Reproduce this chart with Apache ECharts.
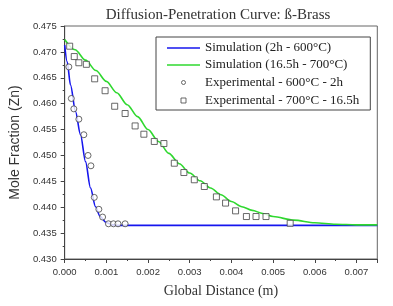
<!DOCTYPE html>
<html>
<head>
<meta charset="utf-8">
<script src="https://cdn.jsdelivr.net/npm/echarts@6/dist/echarts.min.js"></script>
<style>html,body{margin:0;padding:0;background:#fff;}#c{width:393px;height:306px;}</style>
</head>
<body>
<div id="c"></div>
<script>
const blueX = [0, 0.00006, 0.00014, 0.00026, 0.00038, 0.0005, 0.00062, 0.00074, 0.00085, 0.001, 0.00115, 0.0013, 0.0075];
const blueY = [0.4713, 0.4681, 0.4636, 0.4585, 0.4540, 0.4488, 0.4437, 0.4401, 0.4382, 0.4370, 0.4366, 0.4365, 0.4365];
const greenX = [0, 0.00025, 0.0005, 0.00075, 0.001, 0.00125, 0.0015, 0.00175, 0.002, 0.00225, 0.0025, 0.00275, 0.003, 0.00325, 0.0035, 0.00375, 0.004, 0.00425, 0.0045, 0.00475, 0.005, 0.0055, 0.006, 0.0065, 0.007, 0.0075];
const greenY = [0.4724, 0.4704, 0.4684, 0.4664, 0.4643, 0.4621, 0.4598, 0.4575, 0.4550, 0.4527, 0.4504, 0.4484, 0.4466, 0.4451, 0.4437, 0.4424, 0.4411, 0.4401, 0.4394, 0.4388, 0.4382, 0.4375, 0.4370, 0.4367, 0.4366, 0.4366];
const circX = [0.0001, 0.00016, 0.00022, 0.00034, 0.00046, 0.00056, 0.00063, 0.00071, 0.00082, 0.00091, 0.00105, 0.00117, 0.00128, 0.00145];
const circY = [0.4671, 0.4610, 0.4590, 0.4570, 0.4540, 0.4500, 0.4480, 0.4419, 0.4396, 0.4381, 0.4368, 0.4368, 0.4368, 0.4368];
const sqX = [0.00012, 0.00023, 0.00034, 0.00052, 0.00072, 0.00097, 0.0012, 0.00145, 0.00169, 0.0019, 0.00215, 0.00238, 0.00263, 0.00286, 0.00311, 0.00335, 0.00364, 0.00386, 0.0041, 0.00436, 0.00459, 0.00483, 0.00541];
const sqY = [0.4711, 0.4691, 0.4679, 0.4676, 0.4648, 0.4625, 0.4595, 0.4581, 0.4557, 0.4541, 0.4527, 0.4523, 0.4485, 0.4467, 0.4453, 0.4440, 0.4420, 0.4408, 0.4393, 0.4382, 0.4382, 0.4382, 0.4369];
const seriesNames = ['Simulation (2h - 600°C)', 'Simulation (16.5h - 700°C)', 'Experimental - 600°C - 2h', 'Experimental - 700°C - 16.5h'];
const titleText = 'Diffusion-Penetration Curve: ß-Brass';
const xName = 'Global Distance (m)';
const yName = 'Mole Fraction (Zn)';

const zip = (xs, ys) => xs.map((x, i) => [x, ys[i]]);
const chart = echarts.init(document.getElementById('c'));
const serif = 'Liberation Serif';
const sans = 'Liberation Sans';
const blue = '#1616ee';
const green = '#2fd82f';
const lineIcon = 'path://M0,0M33,14M0,6.2L33,6.2L33,7.8L0,7.8Z';
const circIcon = 'path://M0,0M14,14M9,7A2,2,0,1,1,5,7A2,2,0,1,1,9,7Z';
const sqIcon = 'path://M0,0M14,14M4.5,4.5L9.5,4.5L9.5,9.5L4.5,9.5Z';
chart.setOption({
  animation: false,
  backgroundColor: '#fff',
  title: {
    text: titleText, left: 213, top: 3, textAlign: 'center',
    textStyle: {fontFamily: serif, fontSize: 15, fontWeight: 'normal', color: '#333'}
  },
  grid: {left: 62.5, right: 15.7, top: 26, bottom: 47, show: true, borderColor: '#666', borderWidth: 1, backgroundColor: 'transparent'},
  legend: {
    orient: 'vertical', left: 156, top: 37,
    borderColor: '#444', borderWidth: 1, padding: [4, 11, 2, 11],
    itemWidth: 33, itemHeight: 14, itemGap: 3,
    textStyle: {fontFamily: serif, fontSize: 13, color: '#222'},
    data: [
      {name: seriesNames[0], icon: lineIcon, itemStyle: {color: blue, borderWidth: 0}},
      {name: seriesNames[1], icon: lineIcon, itemStyle: {color: green, borderWidth: 0}},
      {name: seriesNames[2], icon: circIcon, itemStyle: {color: '#fff', borderColor: '#444', borderWidth: 1}},
      {name: seriesNames[3], icon: sqIcon, itemStyle: {color: '#fff', borderColor: '#444', borderWidth: 1}}
    ]
  },
  xAxis: {
    type: 'value', min: 0, max: 0.0075, interval: 0.001,
    name: xName, nameLocation: 'middle', nameGap: 25,
    nameTextStyle: {fontFamily: serif, fontSize: 14, color: '#333'},
    axisLine: {lineStyle: {color: '#444'}},
    axisTick: {inside: false, length: 4, lineStyle: {color: '#444'}},
    minorTick: {show: true, splitNumber: 2, length: 2, lineStyle: {color: '#444'}},
    splitLine: {show: false},
    axisLabel: {margin: 8, showMaxLabel: false, fontFamily: sans, fontSize: 9.5, color: '#333',
      formatter: v => v.toFixed(3)}
  },
  yAxis: {
    type: 'value', min: 0.430, max: 0.475, interval: 0.005,
    name: yName, nameLocation: 'middle', nameGap: 36, nameRotate: 90,
    nameTextStyle: {fontFamily: sans, fontSize: 14, color: '#333'},
    axisLine: {show: true, lineStyle: {color: '#444'}},
    axisTick: {show: true, inside: false, length: 4, lineStyle: {color: '#444'}},
    minorTick: {show: true, splitNumber: 2, length: 2, lineStyle: {color: '#444'}},
    splitLine: {show: false},
    axisLabel: {margin: 8, fontFamily: sans, fontSize: 9.5, color: '#333',
      formatter: v => v.toFixed(3)}
  },
  series: [
    {name: seriesNames[0], type: 'line', data: zip(blueX, blueY), symbol: 'none', smooth: 0.3, smoothMonotone: 'x',
      lineStyle: {color: blue, width: 1.6}, itemStyle: {color: blue}, z: 2},
    {name: seriesNames[1], type: 'line', data: zip(greenX, greenY), symbol: 'none', smooth: 0.3, smoothMonotone: 'x',
      lineStyle: {color: green, width: 1.6}, itemStyle: {color: green}, z: 3},
    {name: seriesNames[2], type: 'scatter', data: zip(circX, circY), symbol: 'circle', symbolSize: 6,
      itemStyle: {color: '#fff', borderColor: '#444', borderWidth: 1}, z: 4},
    {name: seriesNames[3], type: 'scatter', data: zip(sqX, sqY), symbol: 'rect', symbolSize: 6,
      itemStyle: {color: '#fff', borderColor: '#444', borderWidth: 1}, z: 4}
  ]
});
</script>
</body>
</html>
